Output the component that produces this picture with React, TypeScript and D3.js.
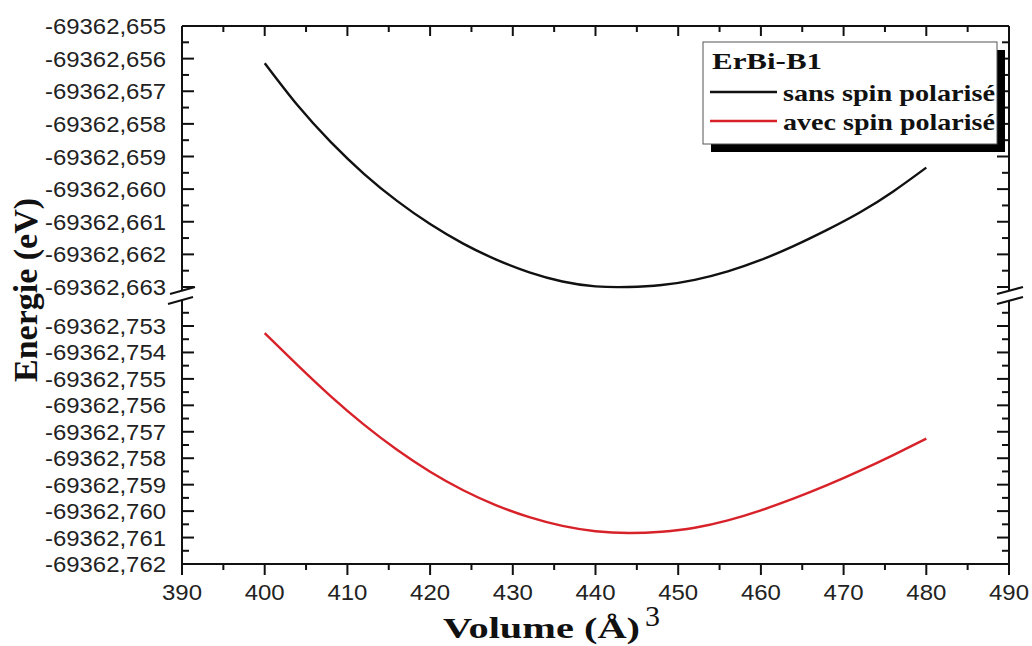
import React from "react";
import * as d3 from "d3";

// ---- data ----
const volumes = [400, 404, 408, 412, 416, 420, 424, 428, 432, 436, 440, 444, 448, 452, 456, 460, 464, 468, 472, 476, 480];
const energySans = [
  -69362.65614, -69362.65744, -69362.65856, -69362.65953, -69362.66036, -69362.66107, -69362.66167,
  -69362.66216, -69362.66255, -69362.66283, -69362.66298, -69362.663, -69362.66294, -69362.66278,
  -69362.66252, -69362.66217, -69362.66174, -69362.66125, -69362.66071, -69362.66007, -69362.65934,
];
const energyAvec = [
  -69362.75327, -69362.75449, -69362.75566, -69362.75673, -69362.75768, -69362.75851, -69362.75921,
  -69362.75978, -69362.76023, -69362.76056, -69362.76076, -69362.76083, -69362.76078, -69362.76063,
  -69362.76035, -69362.75997, -69362.75952, -69362.75902, -69362.75847, -69362.75788, -69362.75726,
];
const xTicks = [390, 400, 410, 420, 430, 440, 450, 460, 470, 480, 490];
const yTicksUpper = [-69362.655, -69362.656, -69362.657, -69362.658, -69362.659, -69362.66, -69362.661, -69362.662, -69362.663];
const yTicksLower = [-69362.753, -69362.754, -69362.755, -69362.756, -69362.757, -69362.758, -69362.759, -69362.76, -69362.761, -69362.762];
const legendTitle = "ErBi-B1";
const seriesNames = ["sans spin polarisé", "avec spin polarisé"];
const xLabel = "Volume (Å)";
const yLabel = "Energie (eV)";

const W = 1032;
const H = 646;
const L = 182;
const R = 1009;
const T = 26;
const B = 564;

const x = d3.scaleLinear().domain([390, 490]).range([L, R]);
const yUp = d3.scaleLinear().domain([-69362.663, -69362.655]).range([287, T]);
const yLo = d3.scaleLinear().domain([-69362.762, -69362.753]).range([B, 326]);

const locale = d3.formatLocale({ decimal: ",", thousands: "", grouping: [3], currency: ["", ""], minus: "-" });
const fmtY = locale.format(".3f");

const mids = (arr: number[]) => d3.pairs(arr).map(([a, b]) => (a + b) / 2);

export default function App() {
  const lineUp = d3
    .line<number>()
    .x((_, i) => x(volumes[i]))
    .y((d) => yUp(d))
    .curve(d3.curveNatural);
  const lineLo = d3
    .line<number>()
    .x((_, i) => x(volumes[i]))
    .y((d) => yLo(d))
    .curve(d3.curveNatural);

  const xMinor = mids(xTicks);
  const yUpMinor = mids(yTicksUpper);
  const yLoMinor = [...mids(yTicksLower), -69362.7525];

  const tickFont = { fontFamily: "'Liberation Sans', Arial, sans-serif", fontSize: 22, fill: "#222" };
  const serifBold = { fontFamily: "'Liberation Serif', 'Times New Roman', serif", fontWeight: 700, fill: "#111" };

  const upTop = T;
  const upBot = 290;
  const loTop = 300;

  return (
    <svg width={W} height={H} style={{ position: "absolute", left: 0, top: 0, background: "#fff" }}>
      <rect x={0} y={0} width={W} height={H} fill="#fff" />

      {/* curves */}
      <path d={lineUp(energySans) || ""} fill="none" stroke="#111" strokeWidth={2.4} />
      <path d={lineLo(energyAvec) || ""} fill="none" stroke="#d8222a" strokeWidth={2.4} />

      {/* frame lines */}
      <g stroke="#111" strokeWidth={2} fill="none">
        <line x1={L} x2={R} y1={T} y2={T} />
        <line x1={L} x2={R + 1} y1={B} y2={B} />
        <line x1={L} x2={L} y1={upTop} y2={upBot} />
        <line x1={L} x2={L} y1={loTop} y2={B} />
        <line x1={R} x2={R} y1={upTop} y2={upBot} />
        <line x1={R} x2={R} y1={loTop} y2={B} />
        {/* break marks */}
        <line x1={170} y1={294} x2={195} y2={287} />
        <line x1={168} y1={304} x2={193} y2={297} />
        <line x1={997} y1={294} x2={1023} y2={287} />
        <line x1={997} y1={304} x2={1023} y2={297} />
      </g>

      {/* ticks */}
      <g stroke="#111" strokeWidth={2}>
        {xTicks.map((t) => (
          <g key={"xt" + t}>
            <line x1={x(t)} x2={x(t)} y1={B} y2={B + 11} />
            <line x1={x(t)} x2={x(t)} y1={T} y2={T + 10} />
          </g>
        ))}
        {xMinor.map((t) => (
          <g key={"xm" + t}>
            <line x1={x(t)} x2={x(t)} y1={B} y2={B + 6} />
            <line x1={x(t)} x2={x(t)} y1={T} y2={T + 6} />
          </g>
        ))}
        {yTicksUpper.map((t) => (
          <g key={"yu" + t}>
            <line x1={L} x2={L + 12} y1={yUp(t)} y2={yUp(t)} />
            <line x1={R} x2={R - 12} y1={yUp(t)} y2={yUp(t)} />
          </g>
        ))}
        {yUpMinor.map((t) => (
          <g key={"yum" + t}>
            <line x1={L} x2={L + 7} y1={yUp(t)} y2={yUp(t)} />
            <line x1={R} x2={R - 7} y1={yUp(t)} y2={yUp(t)} />
          </g>
        ))}
        {yTicksLower.map((t) => (
          <g key={"yl" + t}>
            <line x1={L} x2={L + 12} y1={yLo(t)} y2={yLo(t)} />
            <line x1={R} x2={R - 12} y1={yLo(t)} y2={yLo(t)} />
          </g>
        ))}
        {yLoMinor.map((t) => (
          <g key={"ylm" + t}>
            <line x1={L} x2={L + 7} y1={yLo(t)} y2={yLo(t)} />
            <line x1={R} x2={R - 7} y1={yLo(t)} y2={yLo(t)} />
          </g>
        ))}
      </g>

      {/* tick labels */}
      <g {...tickFont}>
        {xTicks.map((t) => (
          <text key={"xl" + t} x={x(t)} y={600} textAnchor="middle" textLength={40} lengthAdjust="spacingAndGlyphs">
            {t}
          </text>
        ))}
        {yTicksUpper.map((t) => (
          <text key={"yul" + t} x={166} y={yUp(t) + 8} textAnchor="end" textLength={121} lengthAdjust="spacingAndGlyphs">
            {fmtY(t)}
          </text>
        ))}
        {yTicksLower.map((t) => (
          <text key={"yll" + t} x={166} y={yLo(t) + 8} textAnchor="end" textLength={121} lengthAdjust="spacingAndGlyphs">
            {fmtY(t)}
          </text>
        ))}
      </g>

      {/* axis titles */}
      <g {...serifBold}>
        <text x={443} y={638} fontSize={30} textLength={197} lengthAdjust="spacingAndGlyphs">
          {xLabel}
        </text>
        <text x={645} y={626} fontSize={30} fontWeight={400}>
          3
        </text>
        <text
          transform="translate(37,290) rotate(-90)"
          x={0}
          y={0}
          fontSize={33}
          textAnchor="middle"
          textLength={184}
          lengthAdjust="spacingAndGlyphs"
        >
          {yLabel}
        </text>
      </g>

      {/* legend */}
      <g>
        <rect x={711} y={50} width={294} height={102} fill="#000" />
        <rect x={703} y={42} width={294} height={102} fill="#fff" stroke="#555" strokeWidth={1} />
        <g {...serifBold}>
          <text x={712} y={69} fontSize={24} textLength={110} lengthAdjust="spacingAndGlyphs">
            {legendTitle}
          </text>
          <text x={783} y={101} fontSize={24} textLength={212} lengthAdjust="spacingAndGlyphs">
            {seriesNames[0]}
          </text>
          <text x={783} y={130} fontSize={24} textLength={212} lengthAdjust="spacingAndGlyphs">
            {seriesNames[1]}
          </text>
        </g>
        <line x1={710} x2={777} y1={92} y2={92} stroke="#111" strokeWidth={2.4} />
        <line x1={710} x2={777} y1={121} y2={121} stroke="#d8222a" strokeWidth={2.4} />
      </g>
    </svg>
  );
}
